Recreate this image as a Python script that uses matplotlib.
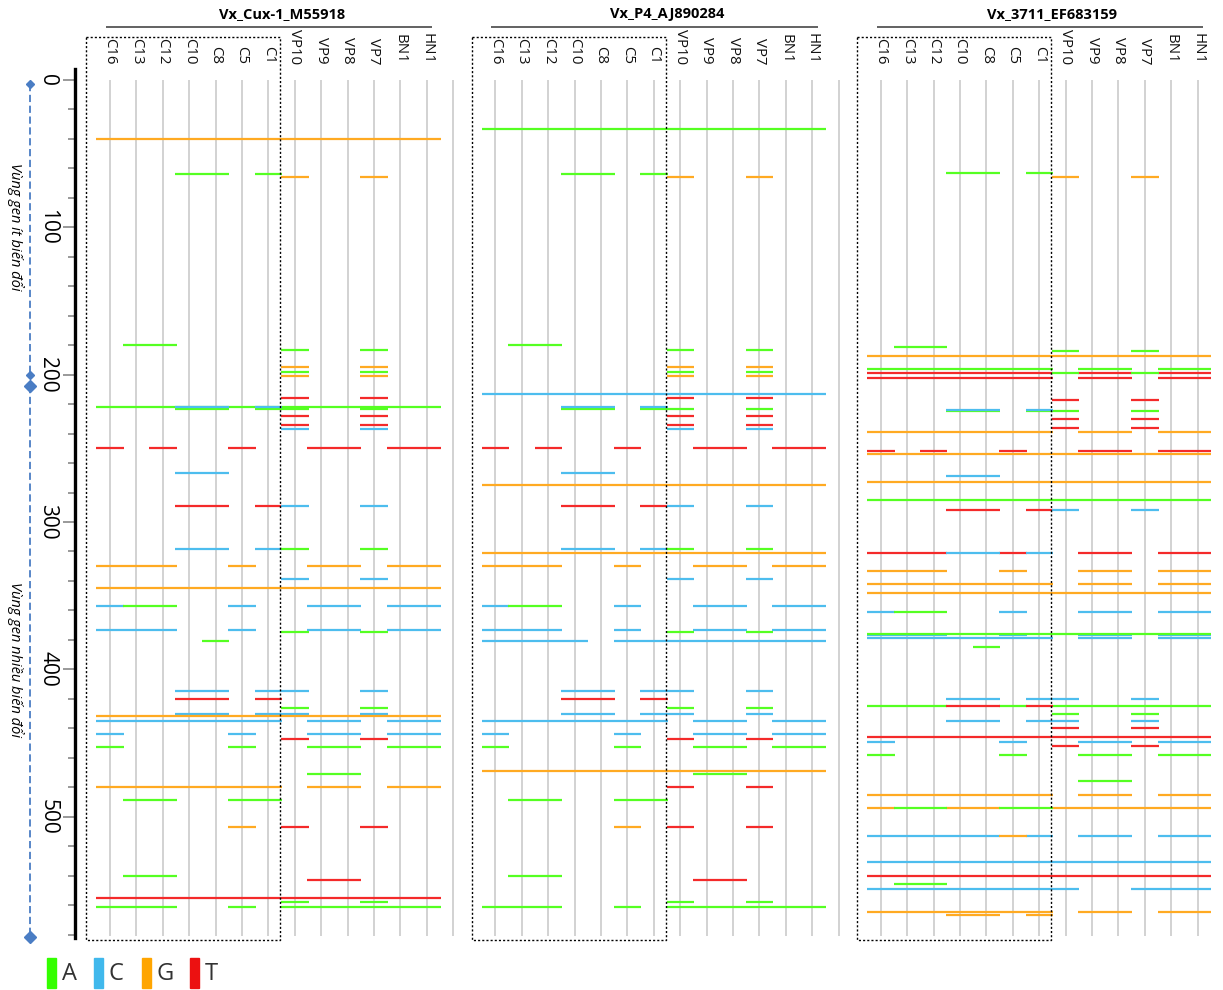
import matplotlib
matplotlib.use("Agg")
import matplotlib.pyplot as plt
from matplotlib.patches import Rectangle

plt.rcParams["font.family"] = ["Open Sans", "DejaVu Sans"]

# strains (columns of each panel)
columns = ["C16", "C13", "C12", "C10", "C8", "C5", "C1",
           "VP10", "VP9", "VP8", "VP7", "BN1", "HN1"]

panel_titles = ["Vx_Cux-1_M55918", "Vx_P4_AJ890284", "Vx_3711_EF683159"]

bases = ["A", "C", "G", "T"]
base_colors = {"A": "#55FF22", "C": "#4DBDEE", "G": "#FFAA22", "T": "#F42A2A"}
legend_colors = {"A": "#33FF00", "C": "#40B8EC", "G": "#FFA500", "T": "#EC1111"}

# (position, base, column groups) - "a-b" means a run of neighbouring strains
cux_muts = [
    (40, "G", ["C16-HN1"]),
    (64, "A", ["C10-C8", "C1"]),
    (66, "G", ["VP10", "VP7"]),
    (180, "A", ["C13-C12"]),
    (183, "A", ["VP10", "VP7"]),
    (195, "G", ["VP10", "VP7"]),
    (198, "A", ["VP10", "VP7"]),
    (201, "G", ["VP10", "VP7"]),
    (216, "T", ["VP10", "VP7"]),
    (222, "A", ["C16-HN1"]),
    (223, "A", ["C10-C8", "C1", "VP10", "VP7"]),
    (222.2, "C", ["C10-C8", "C1"]),
    (228, "T", ["VP10", "VP7"]),
    (234, "T", ["VP10", "VP7"]),
    (237, "C", ["VP10", "VP7"]),
    (250, "T", ["C16", "C12", "C5", "VP9-VP8", "BN1-HN1"]),
    (267, "C", ["C10-C8"]),
    (289, "T", ["C10-C8", "C1"]),
    (289, "C", ["VP10", "VP7"]),
    (318, "C", ["C10-C8", "C1"]),
    (318, "A", ["VP10", "VP7"]),
    (330, "G", ["C16-C12", "C5", "VP9-VP8", "BN1-HN1"]),
    (339, "C", ["VP10", "VP7"]),
    (345, "G", ["C16-HN1"]),
    (357, "C", ["C16", "C5", "VP9-VP8", "BN1-HN1"]),
    (357, "A", ["C13-C12"]),
    (373, "C", ["C16-C12", "C5", "VP9-VP8", "BN1-HN1"]),
    (375, "A", ["VP10", "VP7"]),
    (381, "A", ["C8"]),
    (415, "C", ["C10-C8", "C1-VP10", "VP7"]),
    (420, "T", ["C10-C8", "C1"]),
    (426, "A", ["VP10", "VP7"]),
    (430, "C", ["C10-C8", "C1-VP10", "VP7"]),
    (432, "G", ["C16-HN1"]),
    (435, "C", ["C16-C1", "VP9-VP8", "BN1-HN1"]),
    (444, "C", ["C16", "C5", "VP9-VP8", "BN1-HN1"]),
    (447, "T", ["VP10", "VP7"]),
    (453, "A", ["C16", "C5", "VP9-VP8", "BN1-HN1"]),
    (471, "A", ["VP9-VP8"]),
    (480, "G", ["C16-C1", "VP9-VP8", "BN1-HN1"]),
    (489, "A", ["C13-C12", "C5-C1"]),
    (507, "G", ["C5"]),
    (507, "T", ["VP10", "VP7"]),
    (540, "A", ["C13-C12"]),
    (543, "T", ["VP9-VP8"]),
    (555, "T", ["C16-HN1"]),
    (558, "A", ["VP10", "VP7"]),
    (561, "A", ["C16-C12", "C5", "VP10-HN1"]),
]

p4_muts = [
    (33, "A", ["C16-HN1"]),
    (64, "A", ["C10-C8", "C1"]),
    (66, "G", ["VP10", "VP7"]),
    (180, "A", ["C13-C12"]),
    (183, "A", ["VP10", "VP7"]),
    (195, "G", ["VP10", "VP7"]),
    (198, "A", ["VP10", "VP7"]),
    (201, "G", ["VP10", "VP7"]),
    (213, "C", ["C16-HN1"]),
    (216, "T", ["VP10", "VP7"]),
    (223, "A", ["C10-C8", "C1", "VP10", "VP7"]),
    (222.2, "C", ["C10-C8", "C1"]),
    (228, "T", ["VP10", "VP7"]),
    (234, "T", ["VP10", "VP7"]),
    (237, "C", ["VP10", "VP7"]),
    (250, "T", ["C16", "C12", "C5", "VP9-VP8", "BN1-HN1"]),
    (267, "C", ["C10-C8"]),
    (275, "G", ["C16-HN1"]),
    (289, "T", ["C10-C8", "C1"]),
    (289, "C", ["VP10", "VP7"]),
    (318, "C", ["C10-C8", "C1"]),
    (318, "A", ["VP10", "VP7"]),
    (321, "G", ["C16-HN1"]),
    (330, "G", ["C16-C12", "C5", "VP9-VP8", "BN1-HN1"]),
    (339, "C", ["VP10", "VP7"]),
    (357, "C", ["C16", "C5", "VP9-VP8", "BN1-HN1"]),
    (357, "A", ["C13-C12"]),
    (373, "C", ["C16-C12", "C5", "VP9-VP8", "BN1-HN1"]),
    (375, "A", ["VP10", "VP7"]),
    (381, "C", ["C16-C10", "C5-HN1"]),
    (415, "C", ["C10-C8", "C1-VP10", "VP7"]),
    (420, "T", ["C10-C8", "C1"]),
    (426, "A", ["VP10", "VP7"]),
    (430, "C", ["C10-C8", "C1-VP10", "VP7"]),
    (435, "C", ["C16-C1", "VP9-VP8", "BN1-HN1"]),
    (444, "C", ["C16", "C5", "VP9-VP8", "BN1-HN1"]),
    (447, "T", ["VP10", "VP7"]),
    (453, "A", ["C16", "C5", "VP9-VP8", "BN1-HN1"]),
    (469, "G", ["C16-HN1"]),
    (471, "A", ["VP9-VP8"]),
    (480, "T", ["VP10", "VP7"]),
    (489, "A", ["C13-C12", "C5-C1"]),
    (507, "G", ["C5"]),
    (507, "T", ["VP10", "VP7"]),
    (540, "A", ["C13-C12"]),
    (543, "T", ["VP9-VP8"]),
    (558, "A", ["VP10", "VP7"]),
    (561, "A", ["C16-C12", "C5", "VP10-HN1"]),
]

ef_muts = [
    (63, "A", ["C10-C8", "C1"]),
    (66, "G", ["VP10", "VP7"]),
    (181, "A", ["C13-C12"]),
    (184, "A", ["VP10", "VP7"]),
    (187, "G", ["C16-HN1"]),
    (196, "A", ["C16-C1", "VP9-VP8", "BN1-HN1"]),
    (199, "T", ["C16-C1", "VP9-VP8", "BN1-HN1"]),
    (199, "A", ["VP10", "VP7"]),
    (202, "T", ["C16-C1", "VP9-VP8", "BN1-HN1"]),
    (217, "T", ["VP10", "VP7"]),
    (224.6, "A", ["C10-C8", "C1", "VP10", "VP7"]),
    (223.7, "C", ["C10-C8", "C1"]),
    (230, "T", ["VP10", "VP7"]),
    (236, "T", ["VP10", "VP7"]),
    (239, "G", ["C16-C1", "VP9-VP8", "BN1-HN1"]),
    (252, "T", ["C16", "C12", "C5", "VP9-VP8", "BN1-HN1"]),
    (254, "G", ["C16-HN1"]),
    (269, "C", ["C10-C8"]),
    (273, "G", ["C16-HN1"]),
    (285, "A", ["C16-HN1"]),
    (292, "T", ["C10-C8", "C1"]),
    (292, "C", ["VP10", "VP7"]),
    (321, "T", ["C16-C12", "C5", "VP9-VP8", "BN1-HN1"]),
    (321, "C", ["C10-C8", "C1"]),
    (333, "G", ["C16-C12", "C5", "VP9-VP8", "BN1-HN1"]),
    (342, "G", ["C16-C1", "VP9-VP8", "BN1-HN1"]),
    (348, "G", ["C16-HN1"]),
    (361, "C", ["C16", "C5", "VP9-VP8", "BN1-HN1"]),
    (361, "A", ["C13-C12"]),
    (377, "C", ["C16-C12", "C5", "VP9-VP8", "BN1-HN1"]),
    (376, "A", ["C16-HN1"]),
    (379, "C", ["C16-C1", "VP9-VP8", "BN1-HN1"]),
    (385, "A", ["C8"]),
    (420, "C", ["C10-C8", "C1-VP10", "VP7"]),
    (425, "A", ["C16-C12", "C5", "VP10-HN1"]),
    (425, "T", ["C10-C8", "C1"]),
    (430, "A", ["VP10", "VP7"]),
    (435, "C", ["C10-C8", "C1-VP10", "VP7"]),
    (440, "T", ["VP10", "VP7"]),
    (446, "T", ["C16-HN1"]),
    (449, "C", ["C16", "C5", "VP9-VP8", "BN1-HN1"]),
    (452, "T", ["VP10", "VP7"]),
    (458, "A", ["C16", "C5", "VP9-VP8", "BN1-HN1"]),
    (476, "A", ["VP9-VP8"]),
    (485, "G", ["C16-C1", "VP9-VP8", "BN1-HN1"]),
    (494, "G", ["C16", "C10-C8", "VP10-HN1"]),
    (494, "A", ["C13-C12", "C5-C1"]),
    (513, "C", ["C16-C8", "C1", "VP9-VP8", "BN1-HN1"]),
    (513, "G", ["C5"]),
    (531, "C", ["C16-HN1"]),
    (540, "T", ["C16-HN1"]),
    (546, "A", ["C13-C12"]),
    (549, "C", ["C16-VP10", "VP7-HN1"]),
    (565, "G", ["C16-C1", "VP9-VP8", "BN1-HN1"]),
    (567, "G", ["C10-C8", "C1"]),
]

panels = [cux_muts, p4_muts, ef_muts]
y_major = [0, 100, 200, 300, 400, 500]
region_labels = ["Vùng gen ít biến đổi", "Vùng gen nhiều biến đổi"]

# ---- layout (pixel based) ----
W, H = 1223, 990
COL_PX = 26.4
X0_PX = 110
Y0_PX = 80
Y_PX = 1.4733
panel_offsets = [0, 14.6, 29.2]


def u(px):
    return (px - X0_PX) / COL_PX


def yv(py):
    return (py - Y0_PX) / Y_PX


fig = plt.figure(figsize=(W / 100, H / 100), dpi=100)
ax_left, ax_top, ax_bot = 75, 69, 938
ax = fig.add_axes([ax_left / W, 1 - ax_bot / H, (W - ax_left) / W, (ax_bot - ax_top) / H])
ax.set_xlim(u(ax_left), u(W))
ax.set_ylim(yv(ax_bot), yv(ax_top))

for s in ["top", "right", "bottom"]:
    ax.spines[s].set_visible(False)
ax.spines["left"].set_linewidth(2.4)
ax.set_xticks([])
ax.set_yticks(y_major)
ax.set_yticks(range(0, 581, 20), minor=True)
ax.tick_params(axis="y", which="major", length=8.6, width=1.2, color="#888888",
               pad=11, labelsize=15)
ax.tick_params(axis="y", which="minor", length=5.2, width=1.2, color="#888888")
plt.setp(ax.get_yticklabels(), rotation=-90, ha="center", va="center")

col_idx = {c: i for i, c in enumerate(columns)}

for p, (off, muts, title) in enumerate(zip(panel_offsets, panels, panel_titles)):
    # vertical guide lines
    for k in range(len(columns) + 1):
        ax.plot([off + k, off + k], [0, 581], color="#d2d2d2", lw=1.4, zorder=1,
                solid_capstyle="butt")
    # column labels
    for k, name in enumerate(columns):
        ax.text(off + k, yv(64), name, rotation=-90, ha="center", va="bottom",
                fontsize=10.8, color="#111111", clip_on=False)
    # title and its line
    ax.text(off + 6.5, yv(14), title, ha="center", va="center", fontsize=10.5,
            fontweight="bold", clip_on=False)
    ax.plot([off - 0.15, off + 12.2], [yv(27), yv(27)], color="#555555", lw=1.3,
            clip_on=False, solid_capstyle="butt")
    # dotted box around C-group
    bx0, bx1 = off - 0.9, off + 6.45
    by0, by1 = yv(37), yv(940)
    ax.plot([bx0, bx1, bx1, bx0, bx0], [by0, by0, by1, by1, by0], color="black",
            lw=1.0, ls=(0, (1.5, 1.5)), clip_on=False, zorder=5)
    # mutation segments
    for pos, base, groups in muts:
        for g in groups:
            a, _, b = g.partition("-")
            b = b or a
            x0 = off + col_idx[a] - 0.52
            x1 = off + col_idx[b] + 0.52
            ax.plot([x0, x1], [pos, pos], color=base_colors[base], lw=1.6,
                    solid_capstyle="butt", zorder=3)

# left region markers
lx = u(30)
blue = "#4A7DC4"
ax.plot([lx, lx], [2.5, 200], color=blue, lw=1.3, ls=(0, (4, 2)), clip_on=False)
ax.plot([lx, lx], [207.5, 581.5], color=blue, lw=1.3, ls=(0, (4, 2)), clip_on=False)
ax.plot([lx, lx], [2.5, 200], ls="none", marker="D", ms=4.5, color=blue, clip_on=False)
ax.plot([lx, lx], [207.5, 581.5], ls="none", marker="D", ms=6, color=blue, clip_on=False)
ax.text(u(15), yv(227), region_labels[0], rotation=-90, ha="center", va="center",
        fontsize=10.5, style="italic", clip_on=False)
ax.text(u(15), yv(660), region_labels[1], rotation=-90, ha="center", va="center",
        fontsize=10.5, style="italic", clip_on=False)

# legend
leg_x = [47, 94, 142, 190]
for bx, b in zip(leg_x, bases):
    fig.patches.append(Rectangle((bx / W, 1 - 988 / H), 9 / W, 30 / H,
                                 transform=fig.transFigure, color=legend_colors[b]))
    fig.text((bx + 15) / W, 1 - 974 / H, b, ha="left", va="center", fontsize=17,
             color="#333333")

fig.savefig("out.png", dpi=100)
